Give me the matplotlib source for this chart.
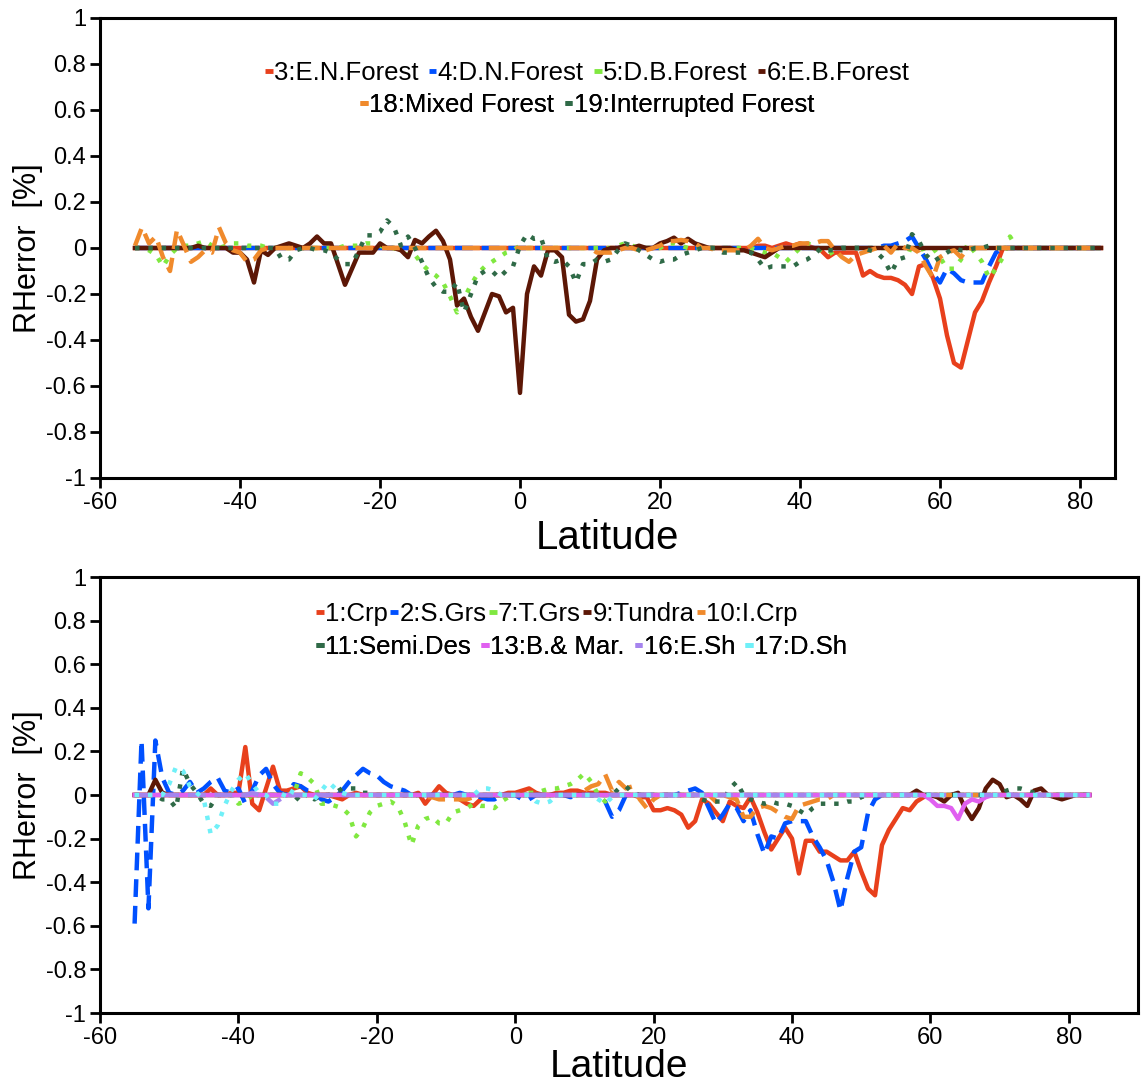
import numpy as np
import matplotlib
matplotlib.use("Agg")
import matplotlib.pyplot as plt
from matplotlib.lines import Line2D

plt.rcParams['font.family'] = ['Liberation Sans', 'DejaVu Sans']
plt.rcParams['axes.unicode_minus'] = False

# latitude grid (1 degree)
latitude = np.arange(-55, 84)

# ---- top panel: forest classes (start latitude, values from there on) ----
en_forest_start = 34
en_forest = [0.01, 0.01, 0.0, 0.01, 0.02, 0.01, 0.02, 0.01, 0.0, -0.01,
             -0.04, -0.02, -0.02, -0.02, -0.02, -0.12, -0.10, -0.12, -0.13, -0.13,
             -0.14, -0.16, -0.20, -0.08, -0.07, -0.13, -0.22, -0.38, -0.50, -0.52,
             -0.40, -0.28, -0.23, -0.15, -0.08, 0.0]

dn_forest_start = 52
dn_forest = [0.01, 0.01, 0.02, 0.03, 0.05, 0.0, -0.05, -0.11, -0.15, -0.09,
             -0.11, -0.14, -0.15, -0.15, -0.15, -0.08, -0.02, 0.0]

db_forest_start = -53
db_forest = ([-0.01, -0.03, -0.08, -0.03, 0.0, 0.01, 0.01, 0.02, 0.03, 0.01,
              0.0, 0.01, 0.02, 0.02, 0.01, 0.01, 0.01] + [0.0] * 11 +
             [0.01, 0.01, 0.01, 0.02, 0.02, 0.01, 0.0, 0.0, -0.02, -0.03,
              -0.03, -0.07, -0.10, -0.12, -0.15, -0.21, -0.28, -0.22, -0.16, -0.11,
              -0.08, -0.06, -0.04, -0.02, -0.01, 0.01] + [0.0] * 13 +
             [0.01, 0.02, 0.01] + [0.0] * 4 + [0.02, 0.02, 0.01] + [0.0] * 10 +
             [-0.01, -0.02, -0.02, -0.04, -0.06, -0.03, 0.0, 0.02, 0.01, -0.01,
              -0.03, -0.01] + [0.0] * 10 +
             [-0.01, -0.01, 0.0, 0.0, -0.04, -0.09, -0.09, -0.05, 0.02, -0.02,
              -0.06, -0.13, -0.09, -0.04, 0.05])

eb_forest_start = -46
eb_forest = ([0.01, 0.0, 0.0, 0.0, 0.0, -0.02, -0.02, -0.05, -0.15, -0.01,
              -0.03, 0.0, 0.01, 0.02, 0.01, 0.0, 0.02, 0.05, 0.02, 0.02,
              -0.07, -0.16, -0.09, -0.02, -0.02, -0.02, 0.02, 0.0, 0.0, -0.01,
              -0.04, 0.035, 0.02, 0.05, 0.075, 0.03, -0.05, -0.25, -0.22, -0.30,
              -0.36, -0.28, -0.20, -0.21, -0.28, -0.26, -0.63, -0.20, -0.08, -0.12,
              -0.01, -0.01, -0.04, -0.29, -0.32, -0.31, -0.23, -0.05, -0.01, 0.0,
              0.0, 0.01, 0.0, 0.01, 0.0, 0.0, 0.02, 0.03, 0.045, 0.02,
              0.04, 0.02, 0.01, 0.0, 0.0, 0.0, 0.0, -0.01, -0.01, -0.02,
              -0.03, -0.04, -0.02, 0.0])

mixed_forest_start = -55
mixed_forest = ([0.01, 0.09, 0.02, 0.05, -0.04, -0.10, 0.08, 0.01, -0.06, -0.04,
                 -0.01, -0.02, 0.09, 0.02, -0.01, -0.02, -0.06, -0.05, -0.01] + [0.0] * 47 +
                [-0.02, -0.02, -0.02, -0.01, 0.0, 0.0, -0.01, -0.01, 0.0, 0.01,
                 0.03, 0.03, 0.035, 0.03, 0.02, 0.0, 0.0, -0.01, -0.01, -0.01,
                 -0.01, -0.01, 0.01, 0.04, 0.0, -0.01, 0.0, 0.01, 0.01, 0.02,
                 0.02, 0.02, 0.03, 0.03, -0.01, -0.04, -0.06, -0.03, -0.02, -0.01,
                 0.0, 0.01, -0.02, 0.02, 0.0, 0.0, -0.02, -0.08, -0.13, -0.04,
                 -0.02, -0.01, -0.04, 0.0])

int_forest_start = -34
int_forest = [-0.05, -0.05, -0.01, 0.0, 0.0, -0.01, -0.01, -0.02, -0.05, -0.07,
              -0.07, -0.01, 0.055, 0.055, 0.07, 0.12, 0.09, 0.01, 0.05, 0.0,
              -0.06, -0.13, -0.17, -0.19, -0.19, -0.15, -0.28, -0.20, -0.12, -0.10,
              -0.10, -0.13, -0.10, -0.08, 0.01, 0.06, 0.04, 0.045, -0.05, -0.06,
              -0.05, -0.08, -0.15, -0.07, -0.07, -0.05, -0.06, -0.05, -0.01, 0.02,
              0.01, -0.01, -0.03, -0.05, -0.06, -0.05, -0.05, -0.03, -0.02, -0.01,
              0.0, 0.0, 0.0, -0.02, -0.02, -0.02, -0.02, -0.02, -0.05, -0.09,
              -0.08, -0.08, -0.08, -0.08, -0.06, -0.05, -0.03, 0.0, -0.01, -0.01,
              0.0, 0.0, 0.0, 0.0, -0.01, -0.02, -0.05, -0.11, -0.05, -0.04,
              0.06, 0.03, -0.03, -0.06, -0.04, -0.02, 0.0, -0.01, -0.01, 0.0,
              0.0, 0.01]

# ---- bottom panel: other classes ----
crp_start = -44
crp = ([0.03, 0.0, 0.0, 0.01, 0.01, 0.22, -0.04, -0.07, 0.03, 0.13,
        0.02, 0.02, 0.03, 0.04, 0.01, 0.0, 0.0, 0.0, -0.01, -0.02,
        0.0, 0.01] + [0.0] * 8 +
       [0.01, -0.04, 0.0, 0.04, 0.01, 0.0, -0.02, -0.04, -0.05, -0.02,
        0.0, 0.0, 0.0, 0.01, 0.01, 0.02, 0.03, 0.01, 0.0, 0.0,
        0.01, 0.01, 0.02, 0.02, 0.01, 0.01, 0.01, 0.01, 0.0, 0.0,
        0.0, 0.0, -0.01, -0.01, -0.07, -0.07, -0.06, -0.07, -0.09, -0.15,
        -0.12, -0.02, -0.04, -0.08, -0.12, -0.03, -0.05, -0.06, -0.01, -0.08,
        -0.17, -0.25, -0.20, -0.15, -0.20, -0.36, -0.21, -0.21, -0.26, -0.26,
        -0.28, -0.30, -0.30, -0.26, -0.35, -0.43, -0.46, -0.23, -0.16, -0.11,
        -0.06, -0.07, -0.03, -0.01, 0.0])

s_grs_start = -55
s_grs = ([-0.59, 0.25, -0.52, 0.25, 0.08, 0.01, 0.0, 0.02, 0.06, 0.01,
          0.03, 0.06, 0.08, 0.02, 0.01, 0.03, -0.04, 0.02, 0.09, 0.12,
          0.05, 0.01, 0.0, 0.05, 0.04, 0.02, 0.01, -0.02, -0.03, -0.01,
          0.02, 0.06, 0.09, 0.12, 0.10, 0.09, 0.06, 0.04, 0.03, 0.02,
          0.0] + [0.0] * 6 +
         [0.01, 0.0, 0.0, -0.01, -0.02, -0.02, 0.0, 0.0, 0.0, -0.02,
          -0.02, 0.0, 0.0, 0.0, 0.0, 0.0, -0.01, 0.0, 0.0, 0.0,
          0.0, -0.03, -0.10, -0.07, 0.0] + [0.0] * 7 +
         [0.01, 0.02, 0.03, 0.01, -0.06, -0.13, -0.09, -0.04, -0.06, -0.12,
          -0.07, -0.18, -0.27, -0.19, -0.20, -0.13, -0.12, -0.12, -0.12, -0.19,
          -0.24, -0.30, -0.40, -0.53, -0.38, -0.26, -0.24, -0.08, -0.02, 0.0])

t_grs_start = -40
t_grs = ([-0.04, -0.03] + [0.0] * 7 +
         [0.10, 0.08, 0.05, -0.04, -0.04, -0.05, -0.06, -0.09, -0.19, -0.15,
          -0.08, -0.05, -0.04, -0.03, -0.05, -0.12, -0.23, -0.14, -0.11, -0.10,
          -0.13, -0.13, -0.08, -0.07, -0.06, -0.04, -0.05, -0.05, -0.06, -0.03,
          -0.01, 0.0, 0.0, 0.01, 0.01, 0.02, 0.03, 0.03, 0.04, 0.05,
          0.07, 0.10, 0.06, 0.0, -0.03, 0.0])

tundra_start = -52
tundra = ([0.07, 0.01] + [0.0] * 108 +
          [0.02, 0.0, 0.0, -0.01, -0.03, 0.0, 0.01, -0.06, -0.11, -0.06,
           0.03, 0.07, 0.05, -0.01, 0.0, -0.02, -0.05, 0.02, 0.03, 0.0,
           -0.01, -0.02, -0.01, 0.0])

i_crp_start = -13
i_crp = ([-0.01, -0.01, -0.02, -0.02, -0.02, -0.02, -0.02, -0.01] + [0.0] * 15 +
         [0.02, 0.04, 0.05, 0.095, 0.02, 0.06, 0.03, 0.04, -0.02, -0.06,
          -0.02, 0.0] + [0.0] * 7 +
         [-0.03, 0.0, -0.01, -0.02, -0.10, -0.10, -0.06, -0.05, -0.06, -0.08,
          -0.10, -0.11, -0.05, -0.04, -0.03, -0.02, -0.02, 0.0])

semi_des_start = -51
semi_des = ([-0.02, -0.02, -0.06, 0.12, 0.05, 0.01, -0.04, -0.05, 0.0] + [0.0] * 11 +
            [-0.03, 0.01, -0.02, 0.0, 0.0, 0.01, 0.03, 0.03, 0.03, 0.01,
             0.01, 0.0] + [0.0] * 34 +
            [0.03, 0.04, 0.01] + [0.0] * 9 +
            [-0.02, -0.03, -0.03, -0.03, 0.03, 0.06, 0.0, -0.02, -0.03, -0.04,
             -0.03, -0.04, -0.04, -0.05, -0.07, -0.09, -0.06, -0.04, -0.04, -0.04,
             -0.04, -0.03, -0.03, -0.01] + [0.0] * 20 +
            [0.02, 0.03, 0.03, 0.02, 0.01, 0.0])

b_mar_start = 60
b_mar = [-0.02, -0.05, -0.05, -0.06, -0.11, -0.04, -0.02, -0.03, -0.01, 0.0]

e_sh_start = -38
e_sh = [0.01, 0.0, -0.01, -0.04, -0.02, 0.0]

d_sh_start = -50
d_sh = ([0.05, 0.13, 0.11, 0.04, 0.01, -0.02, -0.18, -0.14, -0.05, 0.02,
         0.07, 0.10, 0.05, 0.01, 0.0, -0.04, -0.04, 0.03, 0.01, 0.0,
         0.0, -0.02, 0.02, 0.06, 0.03, 0.01] + [0.0] * 19 +
        [0.03, 0.03, 0.02] + [0.0] * 5 + [-0.03, -0.04, -0.03] + [0.0] * 6 +
        [-0.02, -0.04, -0.01, 0.0])

top_labels = ['3:E.N.Forest', '4:D.N.Forest', '5:D.B.Forest', '6:E.B.Forest',
              '18:Mixed Forest', '19:Interrupted Forest']
bottom_labels = ['1:Crp', '2:S.Grs', '7:T.Grs', '9:Tundra', '10:I.Crp',
                 '11:Semi.Des', '13:B.& Mar.', '16:E.Sh', '17:D.Sh']

y_ticks = [-1, -0.8, -0.6, -0.4, -0.2, 0, 0.2, 0.4, 0.6, 0.8, 1]
y_ticklabels = ['-1', '-0.8', '-0.6', '-0.4', '-0.2', '0', '0.2', '0.4', '0.6', '0.8', '1']
x_ticks = [-60, -40, -20, 0, 20, 40, 60, 80]


def full(start, vals):
    out = np.zeros(len(latitude))
    i = start - latitude[0]
    out[i:i + len(vals)] = vals
    return out


RED = '#e8401c'
BLUE = '#0050ff'
LGREEN = '#80e840'
BROWN = '#5c1706'
ORANGE = '#f08a2c'
DGREEN = '#2f6a47'
MAGENTA = '#e060f0'
PURPLE = '#a684ee'
CYAN = '#70f0f8'

SOLID = '-'
DASH = (0, (4, 2))
DOT = (0, (1, 2))

top_series = [
    (full(en_forest_start, en_forest), RED, SOLID),
    (full(dn_forest_start, dn_forest), BLUE, DASH),
    (full(db_forest_start, db_forest), LGREEN, DOT),
    (full(eb_forest_start, eb_forest), BROWN, SOLID),
    (full(mixed_forest_start, mixed_forest), ORANGE, DASH),
    (full(int_forest_start, int_forest), DGREEN, DOT),
]
bottom_series = [
    (full(crp_start, crp), RED, SOLID),
    (full(s_grs_start, s_grs), BLUE, DASH),
    (full(t_grs_start, t_grs), LGREEN, DOT),
    (full(tundra_start, tundra), BROWN, SOLID),
    (full(i_crp_start, i_crp), ORANGE, DASH),
    (full(semi_des_start, semi_des), DGREEN, DOT),
    (full(b_mar_start, b_mar), MAGENTA, SOLID),
    (full(e_sh_start, e_sh), PURPLE, DASH),
    (full(d_sh_start, d_sh), CYAN, DOT),
]

fig = plt.figure(figsize=(11.48, 10.90), dpi=100)
ax1 = fig.add_axes([100 / 1148, 1 - 478 / 1090, 1015 / 1148, 460 / 1090])
ax2 = fig.add_axes([100 / 1148, 1 - 1013 / 1090, 1038 / 1148, 436 / 1090])


def style_axes(ax, xmax, xlabelpad, xlabelsize):
    ax.set_xlim(-60, xmax)
    ax.set_ylim(-1, 1)
    ax.set_xticks(x_ticks)
    ax.set_yticks(y_ticks)
    ax.set_yticklabels(y_ticklabels)
    for s in ax.spines.values():
        s.set_linewidth(2.2)
    ax.tick_params(direction='out', length=7, width=2, labelsize=17, pad=3)
    ax.set_xlabel('Latitude', fontsize=xlabelsize, labelpad=xlabelpad)
    ax.set_ylabel('RHerror  [%]', fontsize=22, labelpad=2)


def add_legend_rows(ax, series, labels, rows):
    for idx, (x, y), colsp in rows:
        handles = [Line2D([], [], color=series[i][1], lw=3.5, solid_capstyle='butt')
                   for i in idx]
        leg = ax.legend(handles, [labels[i] for i in idx], loc='center',
                        bbox_to_anchor=(x, y), ncol=len(idx), frameon=False,
                        fontsize=18.5, handlelength=0.3, handletextpad=0.05,
                        columnspacing=colsp, borderpad=0, borderaxespad=0)
        ax.add_artist(leg)


for ax, series, xmax, lp, ls_ in [(ax1, top_series, 85, 4, 29),
                                   (ax2, bottom_series, 90, 0, 28)]:
    for vals, color, ls in series:
        ax.plot(latitude, vals, color=color, linestyle=ls, lw=3.2)
    style_axes(ax, xmax, lp, ls_)

add_legend_rows(ax1, top_series, top_labels,
                [([0, 1, 2, 3], (0.48, 0.88), 0.4), ([4, 5], (0.48, 0.81), 0.4)])
add_legend_rows(ax2, bottom_series, bottom_labels,
                [([0, 1, 2, 3, 4], (0.44, 0.915), 0.1),
                 ([5, 6, 7, 8], (0.464, 0.84), 0.4)])

fig.savefig('out.png', dpi=100)
